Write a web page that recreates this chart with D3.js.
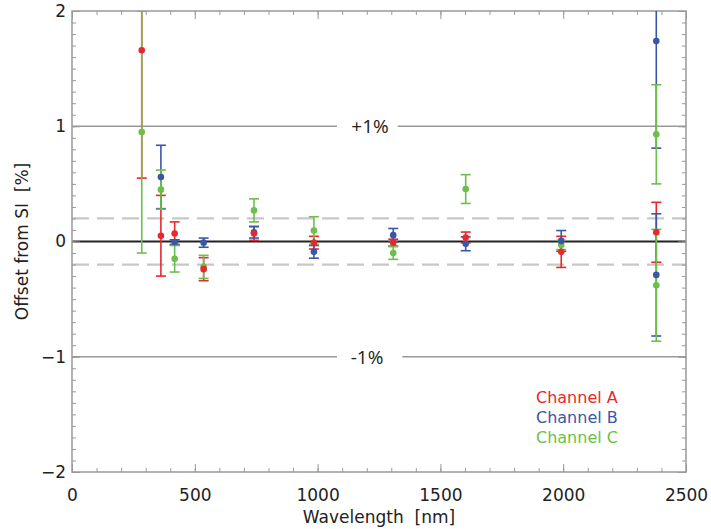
<!DOCTYPE html>
<html><head><meta charset="utf-8">
<script src="https://cdn.jsdelivr.net/npm/d3@7"></script>
<style>body{margin:0;background:#fff;} svg{display:block;} text{white-space:pre;}</style>
</head><body>
<script>
// ---- data ----
const xDomain = [0, 2500];
const yDomain = [-2, 2];
const xTickValues = [0, 500, 1000, 1500, 2000, 2500];
const yTickValues = [-2, -1, 0, 1, 2];

const waveA = [284, 362, 418, 536, 741, 985, 1308, 1603, 1992, 2379];
const valA  = [1.66, 0.05, 0.07, -0.24, 0.07, -0.01, -0.01, 0.035, -0.09, 0.08];
const errA  = [1.11, 0.35, 0.10, 0.10, 0.06, 0.055, 0.03, 0.047, 0.135, 0.26];

const waveB = [362, 418, 536, 741, 985, 1308, 1603, 1992, 2379, 2379];
const valB  = [0.56, -0.005, -0.01, 0.08, -0.09, 0.055, -0.02, 0.005, 1.74, -0.29];
const errB  = [0.275, 0.02, 0.04, 0.05, 0.055, 0.058, 0.06, 0.09, 0.93, 0.53];

const waveC = [284, 362, 418, 536, 741, 985, 1308, 1603, 1992, 2379, 2379];
const valC  = [0.95, 0.45, -0.15, -0.22, 0.27, 0.095, -0.10, 0.455, -0.03, 0.93, -0.38];
const errC  = [1.05, 0.17, 0.115, 0.10, 0.10, 0.12, 0.055, 0.125, 0.04, 0.43, 0.485];

const channelNames = ["Channel A", "Channel B", "Channel C"];
const refLines = [1, -1];
const refLabels = ["+1%", "-1%"];
const bandLines = [0.2, -0.2];

// ---- layout ----
const W = 711, H = 529;
const m = {left: 72, right: 25, top: 11, bottom: 57};
const colors = ["#e8282c", "#3b56a6", "#6cbf4a"];
const font = "'DejaVu Sans', sans-serif";

const svg = d3.select("body").append("svg").attr("width", W).attr("height", H);
const x = d3.scaleLinear().domain(xDomain).range([m.left, W - m.right]);
const y = d3.scaleLinear().domain(yDomain).range([H - m.bottom, m.top]);

svg.append("defs").append("clipPath").attr("id", "clip")
  .append("rect").attr("x", m.left).attr("y", m.top)
  .attr("width", W - m.left - m.right).attr("height", H - m.top - m.bottom);

// band dashed lines
bandLines.forEach(v => {
  svg.append("line").attr("x1", x(xDomain[0])).attr("x2", x(xDomain[1]))
    .attr("y1", y(v)).attr("y2", y(v))
    .attr("stroke", "#c8c8c8").attr("stroke-width", 2.2).attr("stroke-dasharray", "17,8");
});

// ±1% lines with labels
refLines.forEach((v, i) => {
  const cx = i === 0 ? 370 : 367;
  const t = svg.append("text").attr("x", cx).attr("y", y(v)).attr("dy", "0.36em")
    .attr("text-anchor", "middle").attr("font-family", "'Open Sans', sans-serif")
    .attr("font-size", 19).attr("fill", "#222").text(refLabels[i]);
  const bb = t.node().getBBox();
  const gapL = 337, gapR = bb.x + bb.width + (i === 0 ? 9 : 19);
  svg.append("line").attr("x1", x(xDomain[0])).attr("x2", gapL).attr("y1", y(v)).attr("y2", y(v))
    .attr("stroke", "#999").attr("stroke-width", 1.6);
  svg.append("line").attr("x1", gapR).attr("x2", x(xDomain[1])).attr("y1", y(v)).attr("y2", y(v))
    .attr("stroke", "#999").attr("stroke-width", 1.6);
});

// zero line
svg.append("line").attr("x1", x(xDomain[0])).attr("x2", x(xDomain[1]))
  .attr("y1", y(0)).attr("y2", y(0)).attr("stroke", "#222").attr("stroke-width", 2);

// axes
const axisColor = "#999";
function styleAxis(g) {
  g.selectAll(".domain").remove();
  g.selectAll("line").attr("stroke", axisColor).attr("stroke-width", 1);
  g.selectAll("text").attr("font-family", font).attr("font-size", 17).attr("fill", "#222");
}
const xMinor = d3.range(0, 2501, 100);
const yMinor = d3.range(-20, 21).map(d => d / 10);
const B = H - m.bottom, T = m.top, L = m.left, R = W - m.right;

svg.append("g").attr("transform", `translate(0,${B})`)
  .call(d3.axisBottom(x).tickValues(xMinor).tickSize(-4).tickFormat("")).call(styleAxis);
svg.append("g").attr("transform", `translate(0,${B})`)
  .call(d3.axisBottom(x).tickValues(xTickValues).tickSize(-8).tickPadding(17).tickFormat(d3.format("d")))
  .call(styleAxis);
svg.append("g").attr("transform", `translate(0,${T})`)
  .call(d3.axisTop(x).tickValues(xMinor).tickSize(-4).tickFormat("")).call(styleAxis);
svg.append("g").attr("transform", `translate(0,${T})`)
  .call(d3.axisTop(x).tickValues(xTickValues).tickSize(-8).tickFormat("")).call(styleAxis);
svg.append("g").attr("transform", `translate(${L},0)`)
  .call(d3.axisLeft(y).tickValues(yMinor).tickSize(-4).tickFormat("")).call(styleAxis);
svg.append("g").attr("transform", `translate(${L},0)`)
  .call(d3.axisLeft(y).tickValues(yTickValues).tickSize(-8).tickPadding(6).tickFormat(d => d < 0 ? "\u2212" + Math.abs(d) : d))
  .call(styleAxis);
svg.append("g").attr("transform", `translate(${R},0)`)
  .call(d3.axisRight(y).tickValues(yMinor).tickSize(-4).tickFormat("")).call(styleAxis);
svg.append("g").attr("transform", `translate(${R},0)`)
  .call(d3.axisRight(y).tickValues(yTickValues).tickSize(-8).tickFormat("")).call(styleAxis);

// frame
svg.append("rect").attr("x", L).attr("y", T).attr("width", R - L).attr("height", B - T)
  .attr("fill", "none").attr("stroke", axisColor).attr("stroke-width", 1.5);

// series
const series = [
  {w: waveA, v: valA, e: errA, c: colors[0]},
  {w: waveB, v: valB, e: errB, c: colors[1]},
  {w: waveC, v: valC, e: errC, c: colors[2]}
];
const plot = svg.append("g").attr("clip-path", "url(#clip)");
const capHalf = 5;
series.forEach(s => {
  const g = plot.append("g");
  s.w.forEach((w, i) => {
    const cx = x(w), lo = y(s.v[i] - s.e[i]), hi = y(s.v[i] + s.e[i]);
    g.append("line").attr("x1", cx).attr("x2", cx).attr("y1", lo).attr("y2", hi)
      .attr("stroke", s.c).attr("stroke-width", 1.6);
    [lo, hi].forEach(yy => g.append("line").attr("x1", cx - capHalf).attr("x2", cx + capHalf)
      .attr("y1", yy).attr("y2", yy).attr("stroke", s.c).attr("stroke-width", 1.6));
  });
});
[2, 1, 0].forEach(k => {
  const s = series[k];
  plot.append("g").selectAll("circle").data(s.w).join("circle")
    .attr("cx", d => x(d)).attr("cy", (d, i) => y(s.v[i])).attr("r", 3.3).attr("fill", s.c);
});

// legend
channelNames.forEach((n, i) => {
  svg.append("text").attr("x", 536).attr("y", 403 + i * 20).attr("font-family", font)
    .attr("font-size", 16).attr("fill", colors[i]).text(n);
});

// axis titles
svg.append("text").attr("x", 379).attr("y", 523).attr("text-anchor", "middle")
  .attr("font-family", font).attr("font-size", 17).attr("fill", "#222").text("Wavelength  [nm]");
svg.append("text").attr("transform", `translate(28,${(T + B) / 2}) rotate(-90)`)
  .attr("text-anchor", "middle").attr("font-family", font).attr("font-size", 17)
  .attr("fill", "#222").text("Offset from SI  [%]");
</script>
</body></html>
